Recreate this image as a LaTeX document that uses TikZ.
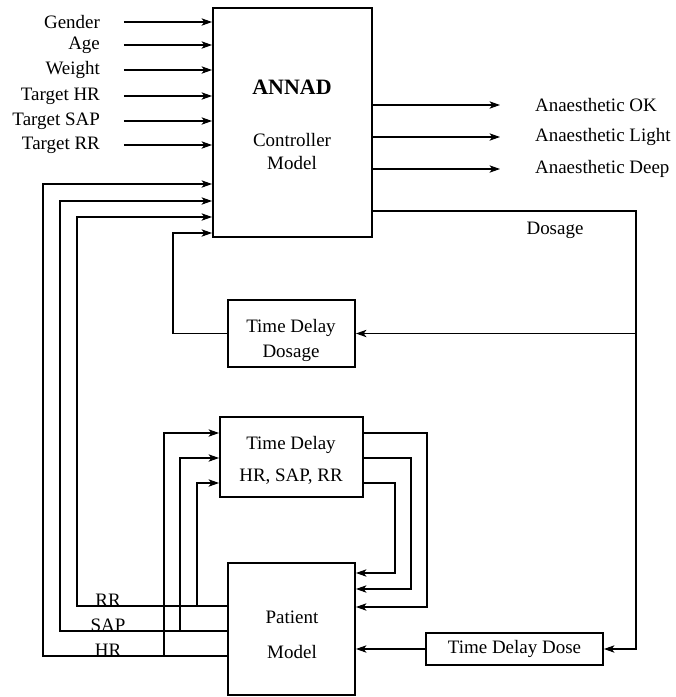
\documentclass[tikz,border=0pt]{standalone}
\usepackage{fontspec}
\setmainfont{Liberation Serif}
\usetikzlibrary{arrows.meta, positioning, calc}

\begin{document}
\begin{tikzpicture}[x=0.02cm, y=-0.02cm,
  blk/.style={draw, line width=1.1pt, inner sep=0pt},
  sig/.style={line width=0.6pt},
  arr/.style={sig, -{Stealth[length=6pt, width=4.2pt, inset=1.6pt]}},
  lbl/.style={font=\fontsize{10.8}{13}\selectfont, inner sep=1pt}]
  \useasboundingbox (0,0) rectangle (676,697);

  % blocks
  \node[blk, minimum width=3.18cm, minimum height=4.58cm] (ctrl) at (292.5,122.5) {};
  \node[blk, minimum width=2.54cm, minimum height=1.34cm] (tdd) at (291.5,333.5) {};
  \node[blk, minimum width=2.86cm, minimum height=1.6cm] (tdh) at (291.5,457) {};
  \node[blk, minimum width=2.54cm, minimum height=2.64cm] (pat) at (291.5,629) {};
  \node[blk, lbl, minimum width=3.54cm, minimum height=0.64cm] (tdose) at (514.5,649) {Time Delay Dose};

  % block texts
  \node[lbl, font=\bfseries\fontsize{12.5}{14}\selectfont] (annad) at (292,87) {ANNAD};
  \node[lbl] at (292,140) {Controller};
  \node[lbl] at (292,163) {Model};
  \node[lbl] at (291,328) {Time Delay};
  \node[lbl] at (291,353) {Dosage};
  \node[lbl] at (291,445) {Time Delay};
  \node[lbl] at (291,477) {HR, SAP, RR};
  \node[lbl] at (292,617) {Patient};
  \node[lbl] at (292,652) {Model};

  % inputs
  \foreach \t/\y [count=\i] in {Gender/22, Age/45, Weight/70, Target HR/96, Target SAP/121, Target RR/145} {
    \node[lbl, anchor=east] (in\i) at (102,\y) {\t};
    \draw[arr] ([xshift=0.44cm]in\i.east) -- (in\i.east -| ctrl.west);
  }

  % outputs
  \foreach \t/\y [count=\i] in {OK/105, Light/137, Deep/169} {
    \node[lbl, anchor=west] (out\i) at (533,\y) {Anaesthetic \t};
    \draw[arr] (ctrl.east |- out\i.west) -- ([xshift=-0.66cm]out\i.west);
  }

  % dosage loop
  \coordinate (dTop) at (636,211);
  \coordinate (fDos) at (173,233);
  \node[lbl] (dos) at (555,230) {Dosage};
  \draw[arr] (ctrl.east |- dTop) -- (dTop) -- (dTop |- tdose.east) -- (tdose.east);
  \draw[arr] (dTop |- tdd.east) -- (tdd.east);
  \draw[arr] (tdd.west) -| (fDos) -- (fDos -| ctrl.west);
  \draw[arr] (tdose.west) -- (tdose.west -| pat.east);

  % patient measurements
  \foreach \s/\py/\vx/\cy/\bx/\ty/\qx/\ry in {HR/656/43/184/164/433/427/607,
      SAP/631/60/201/180/458/411/589, RR/606/77/217/197/483/395/573} {
    \coordinate (p\s) at (228,\py);
    \coordinate (f\s) at (\vx,\cy);
    \coordinate (b\s) at (\bx,\ty);
    \coordinate (q\s) at (\qx,\ty);
    \coordinate (r\s) at (\qx,\ry);
    \node[lbl, anchor=base, inner sep=0pt] (l\s) at (108,\py) {\s};
    \draw[arr] (p\s) -| (f\s) -- (f\s -| ctrl.west);
    \draw[arr] (b\s |- p\s) -- (b\s) -- (b\s -| tdh.west);
    \draw[arr] (q\s -| tdh.east) -- (q\s) -- (r\s) -- (r\s -| pat.east);
  }
\end{tikzpicture}
\end{document}
